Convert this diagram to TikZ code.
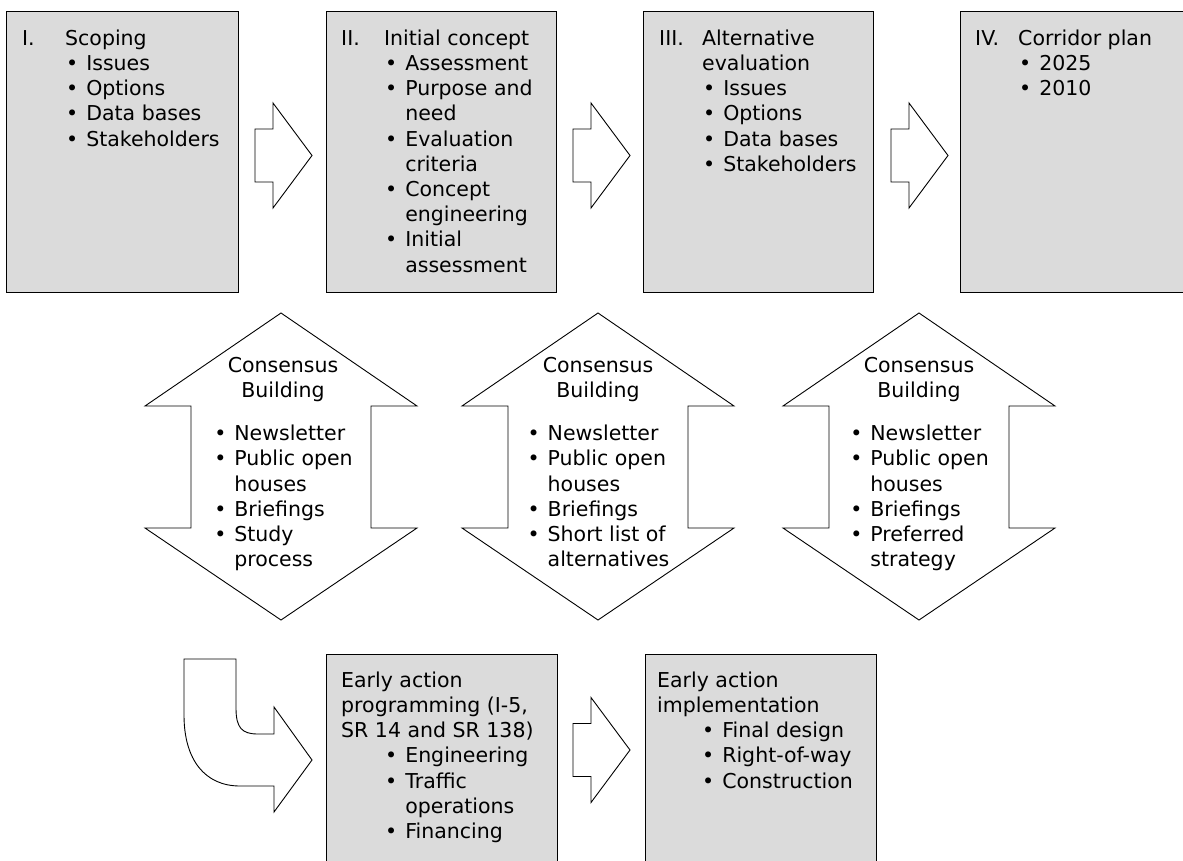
\documentclass[tikz,border=0pt]{standalone}
\usepackage{fontspec}
\setmainfont{DejaVu Sans}
\newcommand{\bul}{\hspace{1pt}\textbullet\hspace{8pt}\null}

\begin{document}
\begin{tikzpicture}[x=1pt,y=-1pt,
    phase/.style={draw,line width=1pt,fill=black!14},
    blk/.style={draw,line width=.9pt,fill=white,line join=miter},
    txt/.style={anchor=north west,inner sep=0pt,font=\fontsize{20.5}{25.2}\selectfont},
    ctxt/.style={anchor=north,inner sep=0pt,align=center,font=\fontsize{20.5}{25.2}\selectfont},
    rarrow/.pic={\path[blk] (0,-26.5) -- (18,-26.5) -- (18,-52.5) -- (57,0)
        -- (18,52.5) -- (18,26.5) -- (0,26.5) -- cycle;},
    udarrow/.pic={\path[blk] (0,0) -- (136,93) -- (90,93) -- (90,215) -- (136,215)
        -- (0,307) -- (-136,215) -- (-90,215) -- (-90,93) -- (-136,93) -- cycle;}]
\clip (0,0) rectangle (1183,860);

% top row
\draw[phase] (  6,11) rectangle (238,292);
\draw[phase] (326,11) rectangle (556,292);
\draw[phase] (643,11) rectangle (873,292);
\draw[phase] (960,11) rectangle (1195,292);

\node[txt] (scoping) at (22,27.4) {%
  \begin{tabular}{@{}p{43pt}@{}l@{}l@{}}
  I. & \multicolumn{2}{@{}l@{}}{Scoping}\\
     & \bul & Issues\\
     & \bul & Options\\
     & \bul & Data bases\\
     & \bul & Stakeholders
  \end{tabular}};
\node[txt] (concept) at (341,27.4) {%
  \begin{tabular}{@{}p{43pt}@{}l@{}l@{}}
  II. & \multicolumn{2}{@{}l@{}}{Initial concept}\\
      & \bul & Assessment\\
      & \bul & Purpose and\\
      &      & need\\
      & \bul & Evaluation\\
      &      & criteria\\
      & \bul & Concept\\
      &      & engineering\\
      & \bul & Initial\\
      &      & assessment
  \end{tabular}};
\node[txt] (alteval) at (659,27.4) {%
  \begin{tabular}{@{}p{43pt}@{}l@{}l@{}}
  III. & \multicolumn{2}{@{}l@{}}{Alternative}\\
       & \multicolumn{2}{@{}l@{}}{evaluation}\\
       & \bul & Issues\\
       & \bul & Options\\
       & \bul & Data bases\\
       & \bul & Stakeholders
  \end{tabular}};
\node[txt] (corridor) at (975,27.4) {%
  \begin{tabular}{@{}p{43pt}@{}l@{}l@{}}
  IV. & \multicolumn{2}{@{}l@{}}{Corridor plan}\\
      & \bul & 2025\\
      & \bul & 2010
  \end{tabular}};

\pic at (255,155.5) {rarrow};
\pic at (573,155.5) {rarrow};
\pic at (891,155.5) {rarrow};

% consensus building
\pic at (281,313) {udarrow};
\pic at (598,313) {udarrow};
\pic at (919,313) {udarrow};

\node[ctxt] (consA) at (283,354.4) {%
  \begin{tabular}{@{}c@{}}Consensus\\Building\end{tabular}\\[17pt]
  \begin{tabular}{@{}l@{}l@{}}
  \bul & Newsletter\\
  \bul & Public open\\
       & houses\\
  \bul & Briefings\\
  \bul & Study\\
       & process
  \end{tabular}};
\node[ctxt] (consB) at (598,354.4) {%
  \begin{tabular}{@{}c@{}}Consensus\\Building\end{tabular}\\[17pt]
  \begin{tabular}{@{}l@{}l@{}}
  \bul & Newsletter\\
  \bul & Public open\\
       & houses\\
  \bul & Briefings\\
  \bul & Short list of\\
       & alternatives
  \end{tabular}};
\node[ctxt] (consC) at (919,354.4) {%
  \begin{tabular}{@{}c@{}}Consensus\\Building\end{tabular}\\[17pt]
  \begin{tabular}{@{}l@{}l@{}}
  \bul & Newsletter\\
  \bul & Public open\\
       & houses\\
  \bul & Briefings\\
  \bul & Preferred\\
       & strategy
  \end{tabular}};

% early action
\path[blk] (184,659) -- (236,659) -- (236,708) .. controls (236,728) and (242,734) .. (258,734)
    -- (274,734) -- (274,707) -- (312,760) -- (274,812) -- (274,786) -- (240,786)
    .. controls (205,786) and (184,760) .. (184,715) -- cycle;

\draw[phase] (326,654) rectangle (557,875);
\draw[phase] (645,654) rectangle (876,875);

\node[txt] (eaprog) at (341,669.4) {%
  \begin{tabular}{@{}p{43pt}@{}l@{}l@{}}
  \multicolumn{3}{@{}l@{}}{Early action}\\
  \multicolumn{3}{@{}l@{}}{programming (I-5,}\\
  \multicolumn{3}{@{}l@{}}{SR 14 and SR 138)}\\
  & \bul & Engineering\\
  & \bul & Traffic\\
  &      & operations\\
  & \bul & Financing
  \end{tabular}};
\node[txt] (eaimpl) at (657,669.4) {%
  \begin{tabular}{@{}p{44pt}@{}l@{}l@{}}
  \multicolumn{3}{@{}l@{}}{Early action}\\
  \multicolumn{3}{@{}l@{}}{implementation}\\
  & \bul & Final design\\
  & \bul & Right-of-way\\
  & \bul & Construction
  \end{tabular}};

\pic at (573,750) {rarrow};
\end{tikzpicture}
\end{document}
